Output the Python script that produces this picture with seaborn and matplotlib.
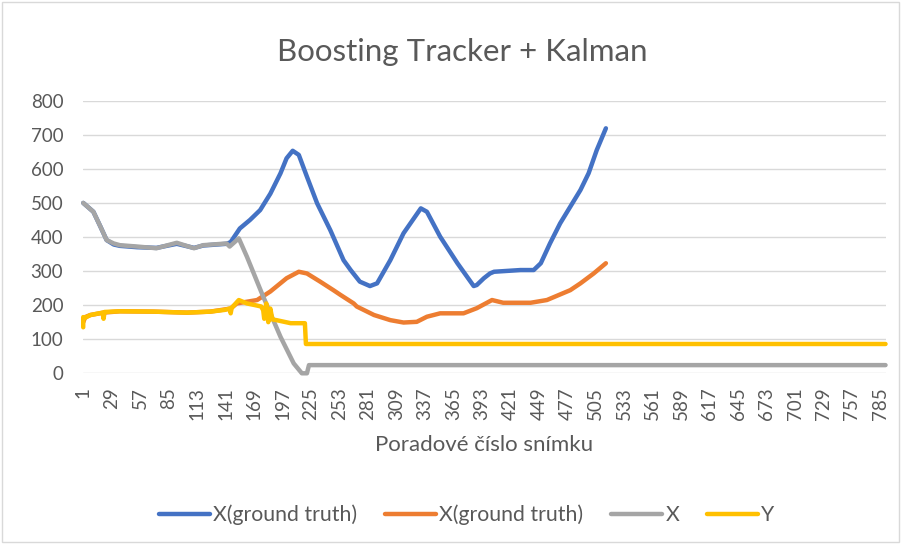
import matplotlib
matplotlib.use("Agg")
import matplotlib.pyplot as plt
import seaborn as sns
import pandas as pd
from matplotlib.lines import Line2D
from matplotlib.patches import Rectangle

# values (frame number -> value)
blue_frames = [1, 11, 18, 24, 31, 37, 54, 73, 93, 110, 119, 142, 146, 155, 165, 175,
               185, 195, 201, 207, 213, 221, 231, 244, 257, 264, 273, 283, 290, 303,
               316, 333, 339, 352, 369, 385, 388, 395, 401, 405, 431, 444, 451, 460,
               470, 480, 490, 498, 506, 515]
blue_values = [500, 474, 430, 391, 378, 374, 370, 368, 380, 368, 375, 380, 385, 425, 450, 479,
               527, 587, 631, 653, 641, 577, 499, 420, 332, 303, 269, 256, 264, 332,
               411, 484, 474, 401, 323, 256, 259, 279, 293, 298, 303, 303, 323, 381,
               440, 489, 538, 587, 655, 719]

orange_frames = [1, 3, 8, 21, 37, 70, 103, 126, 146, 152, 172, 185, 201, 213, 221, 234,
                 247, 254, 267, 270, 287, 303, 316, 329, 339, 352, 375, 388, 403, 414,
                 441, 457, 480, 490, 503, 515]
orange_values = [150, 165, 171, 178, 182, 181, 178, 181, 190, 205, 215, 240, 279, 298, 293, 269,
                 244, 230, 205, 196, 171, 156, 149, 151, 166, 176, 176, 191, 215, 207,
                 207, 215, 244, 264, 293, 323]

gray_frames = [1, 11, 18, 24, 31, 37, 54, 73, 93, 110, 119, 142, 145, 148, 154, 162,
               178, 195, 208, 216, 221, 223, 790]
gray_values = [500, 474, 430, 391, 381, 376, 372, 367, 383, 367, 376, 381, 372, 380, 396, 342,
               225, 107, 29, 0, 0, 24, 24]

yellow_frames = [1, 1, 3, 8, 20, 21, 22, 37, 70, 103, 126, 140, 145, 146, 147, 154, 162,
                 170, 176, 178, 179, 181, 183, 185, 187, 191, 205, 219, 220, 790]
yellow_values = [135, 165, 163, 171, 178, 160, 180, 182, 181, 178, 181, 186, 190, 176, 192, 215, 205,
                 200, 196, 185, 160, 205, 150, 190, 158, 156, 147, 147, 86, 86]

series_names = ["X(ground truth)", "X(ground truth)", "X", "Y"]
series_colors = ["#4472C4", "#ED7D31", "#A5A5A5", "#FFC000"]
x_ticks = list(range(1, 790, 28))
y_ticks = list(range(0, 801, 100))

sns.set_theme(style="white")
plt.rcParams["font.family"] = ["Lato", "DejaVu Sans"]

fig = plt.figure(figsize=(9.01, 5.44), dpi=100)
ax = fig.add_axes([0.0918, 0.3138, 0.8916, 0.5011])

series = [
    (blue_frames, blue_values),
    (orange_frames, orange_values),
    (gray_frames, gray_values),
    (yellow_frames, yellow_values),
]

for (frames, values), color in zip(series, series_colors):
    df = pd.DataFrame({"frame": frames, "value": values})
    sns.lineplot(
        data=df,
        x="frame",
        y="value",
        estimator=None,
        sort=False,
        color=color,
        linewidth=3.2,
        ax=ax,
        clip_on=False,
        solid_capstyle="round",
        solid_joinstyle="round",
    )

ax.set_xlim(0.5, 790.5)
ax.set_ylim(0, 800)
ax.set_xticks(x_ticks)
ax.set_xticklabels([str(t) for t in x_ticks], rotation=90)
ax.set_yticks(y_ticks)
ax.tick_params(axis="x", colors="#595959", labelsize=13.5, length=0, pad=10)
ax.tick_params(axis="y", colors="#595959", labelsize=13.5, length=0, pad=14)
ax.yaxis.grid(True, color="#D9D9D9", linewidth=1)
ax.set_axisbelow(True)
for side in ["top", "right", "left", "bottom"]:
    ax.spines[side].set_visible(False)

ax.set_xlabel("Poradové číslo snímku", fontsize=16, color="#595959", labelpad=11)
ax.set_ylabel("")
fig.text(0.513, 0.905, "Boosting Tracker + Kalman", ha="center", va="center",
         fontsize=22.5, color="#595959")

handles = [Line2D([0], [0], color=c, linewidth=3.2) for c in series_colors]
fig.legend(handles, series_names, loc="center", bbox_to_anchor=(0.518, 0.053), ncol=4,
           frameon=False, fontsize=15.3, handlelength=2.4, handletextpad=0.15,
           columnspacing=1.3, labelcolor="#595959")

fig.patches.append(Rectangle((0.002, 0.004), 0.996, 0.992, transform=fig.transFigure,
                             fill=False, edgecolor="#D9D9D9", linewidth=1))

fig.savefig("out.png", dpi=100)
plt.close(fig)
